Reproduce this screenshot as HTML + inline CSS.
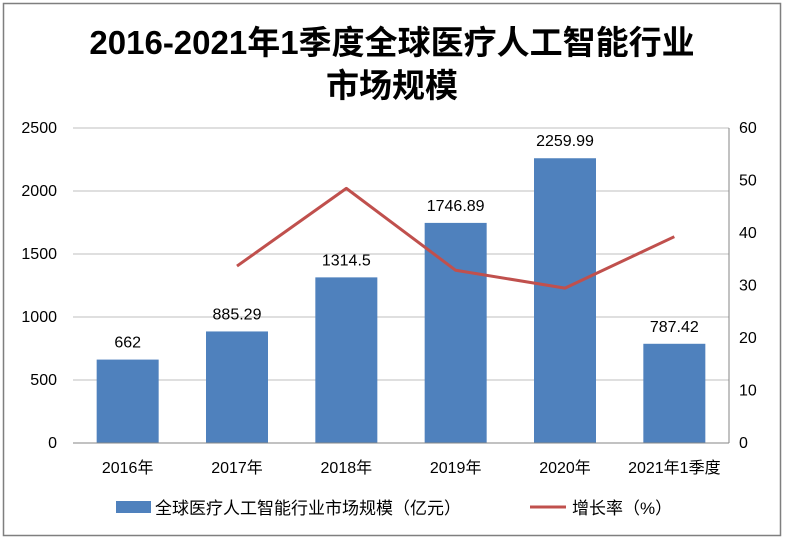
<!DOCTYPE html>
<html><head><meta charset="utf-8"><style>
body{margin:0;background:#fff;}
svg text{font-family:"Liberation Sans","Noto Sans CJK SC",sans-serif;}
</style></head><body>
<svg width="785" height="540" xmlns="http://www.w3.org/2000/svg">
<rect x="3.5" y="3.5" width="777" height="532" fill="#fff" stroke="#7f7f7f" stroke-width="1.5"/>
<text x="392" y="54" text-anchor="middle" font-size="33" font-weight="bold">2016-2021年1季度全球医疗人工智能行业</text>
<text x="392" y="97" text-anchor="middle" font-size="33" font-weight="bold">市场规模</text>
<g id="grid"></g><g id="bars"></g><g id="line"></g><g id="axes"></g>
<g>
<rect x="116" y="501" width="35" height="12" fill="#4f81bd"/>
<text x="155" y="514" font-size="17">全球医疗人工智能行业市场规模（亿元）</text>
<line x1="530" y1="507" x2="566" y2="507" stroke="#c0504d" stroke-width="3"/>
<text x="572" y="514" font-size="17">增长率（%）</text>
</g>
</svg>
<script>
const categories=["2016年","2017年","2018年","2019年","2020年","2021年1季度"];
const marketSize=[662,885.29,1314.5,1746.89,2259.99,787.42];
const sizeLabels=["662","885.29","1314.5","1746.89","2259.99","787.42"];
const growth=[null,33.7,48.5,32.9,29.5,39.3];
const leftTicks=[0,500,1000,1500,2000,2500];
const rightTicks=[0,10,20,30,40,50,60];
const NS="http://www.w3.org/2000/svg";
const X0=73,X1=729,Y0=443,Y1=128;
const bw=(X1-X0)/categories.length;
const xc=i=>X0+bw*(i+0.5);
const yl=v=>Y0-(v/2500)*(Y0-Y1);
const yr=v=>Y0-(v/60)*(Y0-Y1);
function mk(t,a,p){const e=document.createElementNS(NS,t);for(const k in a)e.setAttribute(k,a[k]);p.appendChild(e);return e;}
const grid=document.getElementById('grid'),bars=document.getElementById('bars'),line=document.getElementById('line'),axes=document.getElementById('axes');
leftTicks.forEach(v=>{
 if(v>0){const g=mk('line',{x1:X0,x2:X1,y1:yl(v),y2:yl(v),stroke:'#bfbfbf','stroke-width':1},grid);
 
 }
 const t=mk('text',{x:X0-16,y:yl(v)+5,'text-anchor':'end','font-size':16},axes);t.textContent=v;
 
 
});
rightTicks.forEach(v=>{
 const t=mk('text',{x:X1+10,y:yr(v)+5,'font-size':16},axes);t.textContent=v;
 
 
});
const ax=mk('line',{x1:X0,x2:X1,y1:Y0,y2:Y0,stroke:'#868686','stroke-width':1},axes);


const ra=mk('line',{x1:X1,x2:X1,y1:Y1,y2:Y0,stroke:'#868686','stroke-width':1},axes);


categories.forEach((c,i)=>{
 const h=Y0-yl(marketSize[i]);
 const r=mk('rect',{x:xc(i)-31,y:yl(marketSize[i]),width:62,height:h,fill:'#4f81bd'},bars);
 
 
 const l=mk('text',{x:xc(i),y:yl(marketSize[i])-12,'text-anchor':'middle','font-size':16},bars);l.textContent=sizeLabels[i];
 
 
 const t=mk('text',{x:xc(i),y:Y0+30,'text-anchor':'middle','font-size':16},axes);t.textContent=c;
 
 
});
const pts=growth.map((v,i)=>v==null?null:xc(i)+','+yr(v)).filter(p=>p);
const pl=mk('polyline',{points:pts.join(' '),fill:'none',stroke:'#c0504d','stroke-width':3,'stroke-linejoin':'round'},line);


</script>
</body></html>
